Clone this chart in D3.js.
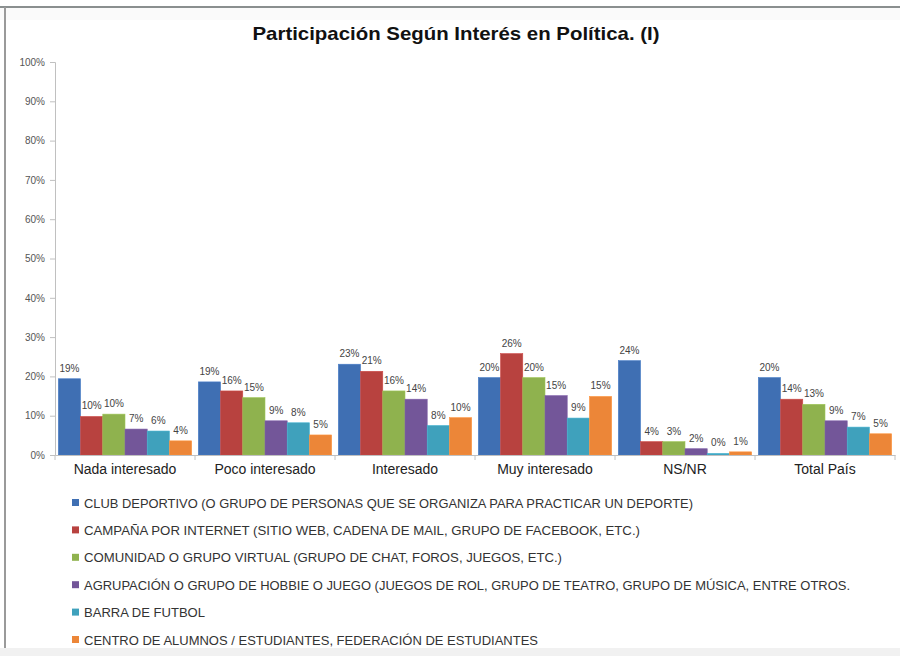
<!DOCTYPE html>
<html>
<head>
<meta charset="utf-8">
<script src="https://cdn.jsdelivr.net/npm/d3@7"></script>
<style>
  body { margin: 0; background: #fff; }
  text { font-family: "Liberation Sans", Arial, sans-serif; }
</style>
</head>
<body>
<script>
// categories along the x axis
var categories = ["Nada interesado", "Poco interesado", "Interesado", "Muy interesado", "NS/NR", "Total País"];

// one series per organisation type
var series_names = [
  "CLUB DEPORTIVO (O GRUPO DE PERSONAS QUE SE ORGANIZA PARA PRACTICAR UN DEPORTE)",
  "CAMPAÑA POR INTERNET (SITIO WEB, CADENA DE MAIL, GRUPO DE FACEBOOK, ETC.)",
  "COMUNIDAD O GRUPO VIRTUAL (GRUPO DE CHAT, FOROS, JUEGOS, ETC.)",
  "AGRUPACIÓN O GRUPO DE HOBBIE O JUEGO (JUEGOS DE ROL, GRUPO DE TEATRO, GRUPO DE MÚSICA, ENTRE OTROS.",
  "BARRA DE FUTBOL",
  "CENTRO DE ALUMNOS / ESTUDIANTES, FEDERACIÓN DE ESTUDIANTES"
];

// values in %
var club_deportivo   = [19.4, 18.6, 23.1, 19.7, 24.0, 19.7];
var campana_internet = [9.8, 16.3, 21.3, 25.8, 3.4, 14.2];
var comunidad_virtual = [10.4, 14.6, 16.3, 19.7, 3.4, 12.9];
var agrupacion_hobbie = [6.6, 8.7, 14.2, 15.1, 1.6, 8.7];
var barra_futbol     = [6.1, 8.2, 7.5, 9.4, 0.4, 7.1];
var centro_alumnos   = [3.6, 5.1, 9.5, 14.9, 0.8, 5.4];

// labels printed above the bars
var label_text = [
  ["19%", "19%", "23%", "20%", "24%", "20%"],
  ["10%", "16%", "21%", "26%", "4%", "14%"],
  ["10%", "15%", "16%", "20%", "3%", "13%"],
  ["7%", "9%", "14%", "15%", "2%", "9%"],
  ["6%", "8%", "8%", "9%", "0%", "7%"],
  ["4%", "5%", "10%", "15%", "1%", "5%"]
];

var y_ticks = [0, 10, 20, 30, 40, 50, 60, 70, 80, 90, 100];

var colors = ["#3F6FB3", "#B8423F", "#8FB24E", "#735699", "#3FA1BC", "#EC8638"];

var all_values = [club_deportivo, campana_internet, comunidad_virtual, agrupacion_hobbie, barra_futbol, centro_alumnos];

// legend text widths (the original font is narrow)
var legend_widths = [609, 556, 478, 766, 121, 454];

var width = 900, height = 656;
var svg = d3.select("body").append("svg").attr("width", width).attr("height", height);

// frame of the screenshot
svg.append("rect").attr("x", 0).attr("y", 0).attr("width", width).attr("height", height).attr("fill", "#fff");
svg.append("rect").attr("x", 0).attr("y", 8).attr("width", width).attr("height", 12).attr("fill", "#fafafa");
svg.append("rect").attr("x", 0).attr("y", 648).attr("width", width).attr("height", 8).attr("fill", "#f1f1f1");
svg.append("line").attr("x1", 0).attr("x2", width).attr("y1", 7).attr("y2", 7)
  .attr("stroke", "#8a8f8f").attr("stroke-width", 2);
svg.append("line").attr("x1", 5).attr("x2", 5).attr("y1", 7).attr("y2", 648)
  .attr("stroke", "#9a9a9a").attr("stroke-width", 2);

svg.append("text")
  .attr("x", 456).attr("y", 40)
  .attr("text-anchor", "middle")
  .attr("font-size", 19).attr("font-weight", "bold").attr("fill", "#111")
  .attr("textLength", 407).attr("lengthAdjust", "spacingAndGlyphs")
  .text("Participación Según Interés en Política. (I)");

var x0 = d3.scaleBand().domain(categories).range([55, 895]);
var x1 = d3.scaleBand().domain(d3.range(series_names.length)).range([0, x0.bandwidth()]).paddingOuter(0.15);
var y = d3.scaleLinear().domain([0, 100]).range([455, 62]);

// y axis
var yAxis = d3.axisLeft(y).tickValues(y_ticks).tickSize(5).tickFormat(function(d) { return d + "%"; });
var gy = svg.append("g").attr("transform", "translate(55,0)").call(yAxis);
gy.select(".domain").attr("stroke", "#c0c0c0");
gy.selectAll(".tick line").attr("stroke", "#c0c0c0");
gy.selectAll(".tick text").attr("font-size", 10).attr("fill", "#555").attr("x", -10)
  .attr("font-family", "Liberation Sans, Arial, sans-serif");

// bars
var groups = svg.append("g").selectAll("g")
  .data(categories)
  .enter().append("g")
  .attr("transform", function(d) { return "translate(" + x0(d) + ",0)"; });

groups.each(function(cat, ci) {
  var g = d3.select(this);
  all_values.forEach(function(vals, si) {
    g.append("rect")
      .attr("x", x1(si))
      .attr("y", y(vals[ci]))
      .attr("width", x1.bandwidth())
      .attr("height", y(0) - y(vals[ci]))
      .attr("fill", colors[si])
      .attr("stroke", d3.color(colors[si]).brighter(0.3))
      .attr("stroke-width", 0.6);
    g.append("text")
      .attr("x", x1(si) + x1.bandwidth() / 2)
      .attr("y", y(vals[ci]) - 7)
      .attr("text-anchor", "middle")
      .attr("font-size", 10).attr("fill", "#444")
      .text(label_text[si][ci]);
  });
});

// x axis
var xAxis = d3.axisBottom(x0).tickSize(0).tickSizeOuter(0);
var gx = svg.append("g").attr("transform", "translate(0,455)").call(xAxis);
gx.select(".domain").attr("stroke", "#c0c0c0");
gx.selectAll(".tick text").attr("font-size", 14).attr("fill", "#222").attr("dy", "1.15em")
  .attr("font-family", "Liberation Sans, Arial, sans-serif");
// boundary ticks between categories
svg.append("g").selectAll("line")
  .data(categories.concat(["end"]))
  .enter().append("line")
  .attr("x1", function(d, i) { return 55 + i * x0.step(); })
  .attr("x2", function(d, i) { return 55 + i * x0.step(); })
  .attr("y1", 455).attr("y2", 460)
  .attr("stroke", "#c0c0c0");

// legend
var legend = svg.append("g").selectAll("g")
  .data(series_names)
  .enter().append("g")
  .attr("transform", function(d, i) { return "translate(72," + (503 + i * 27.4) + ")"; });
legend.append("rect")
  .attr("x", 0).attr("y", -4).attr("width", 7).attr("height", 7)
  .attr("fill", function(d, i) { return colors[i]; });
legend.append("text")
  .attr("x", 12).attr("y", 4.5)
  .attr("font-size", 13).attr("fill", "#333")
  .attr("textLength", function(d, i) { return legend_widths[i]; })
  .attr("lengthAdjust", "spacingAndGlyphs")
  .text(function(d) { return d; });
</script>
</body>
</html>
